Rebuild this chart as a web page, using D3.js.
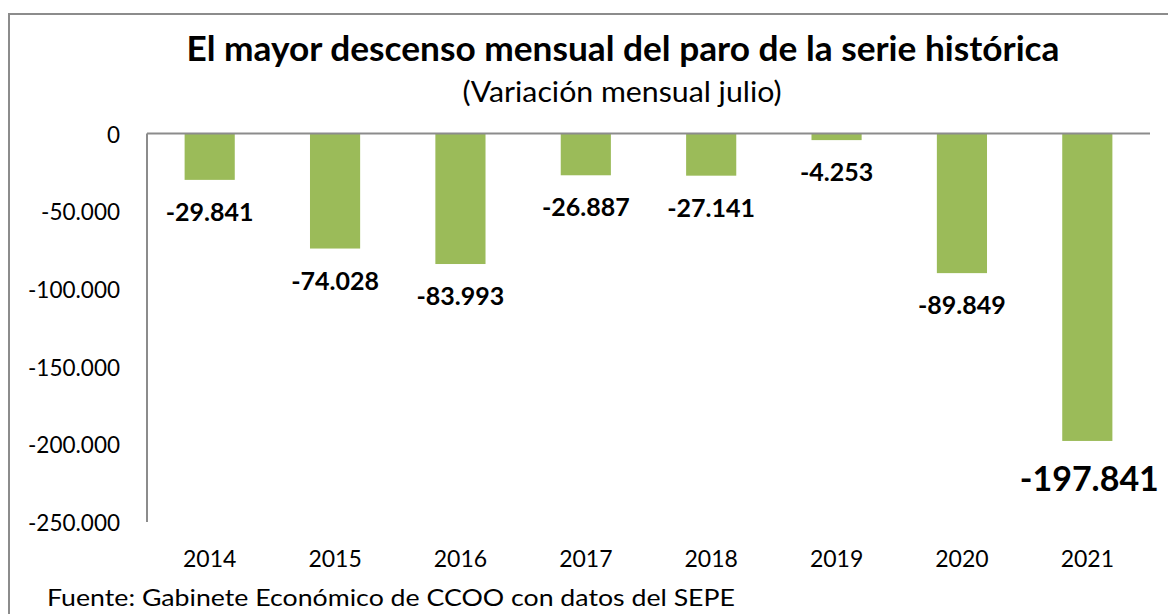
<!DOCTYPE html>
<html>
<head>
<meta charset="utf-8">
<script src="https://cdn.jsdelivr.net/npm/d3@7"></script>
<style>
  html, body { margin: 0; padding: 0; background: #fff; }
  svg { display: block; font-family: Lato, "Open Sans", sans-serif; }
</style>
</head>
<body>
<svg id="chart" width="1168" height="614"></svg>
<script>
// data
const years = ["2014", "2015", "2016", "2017", "2018", "2019", "2020", "2021"];
const values = [-29841, -74028, -83993, -26887, -27141, -4253, -89849, -197841];
const yTicks = [0, -50000, -100000, -150000, -200000, -250000];

const title = "El mayor descenso mensual del paro de la serie histórica";
const subtitle = "(Variación mensual julio)";
const source = "Fuente: Gabinete Económico de CCOO con datos del SEPE";

const svg = d3.select("#chart");

// spanish number format, plain hyphen for the minus
const es = d3.formatLocale({decimal: ",", thousands: ".", grouping: [3], currency: ["", " €"], minus: "-"});
const fmt = es.format(",");

// outer frame (right and bottom run past the window)
svg.append("rect")
  .attr("x", 9).attr("y", 14)
  .attr("width", 1200).attr("height", 700)
  .attr("fill", "none")
  .attr("stroke", "#8c8c8c")
  .attr("stroke-width", 2);

const x = d3.scaleBand().domain(years).range([147, 1150]).paddingInner(0.6).paddingOuter(0.3);
const y = d3.scaleLinear().domain([-250000, 0]).range([522, 133.5]);

// y tick labels (no tick marks in the original)
svg.append("g")
  .selectAll("text")
  .data(yTicks)
  .join("text")
    .attr("x", 120)
    .attr("y", d => y(d) + 9)
    .attr("text-anchor", "end")
    .attr("font-size", 22.5)
    .attr("fill", "#000")
    .text(d => fmt(d));

// bars
svg.append("g")
  .selectAll("rect")
  .data(values)
  .join("rect")
    .attr("x", (d, i) => x(years[i]))
    .attr("y", y(0))
    .attr("width", x.bandwidth())
    .attr("height", d => y(d) - y(0))
    .attr("fill", "#9bbb59");

// axis lines
svg.append("line")
  .attr("x1", 147).attr("x2", 147)
  .attr("y1", y(0)).attr("y2", y(-250000))
  .attr("stroke", "#8c8c8c").attr("stroke-width", 2);
svg.append("line")
  .attr("x1", 147).attr("x2", 1150)
  .attr("y1", y(0)).attr("y2", y(0))
  .attr("stroke", "#8c8c8c").attr("stroke-width", 2);

// value labels, the last one bigger
svg.append("g")
  .selectAll("text")
  .data(values)
  .join("text")
    .attr("x", (d, i) => x(years[i]) + x.bandwidth() / 2 + (i === 7 ? 2 : 0))
    .attr("y", (d, i) => y(d) + (i === 7 ? 50 : 41))
    .attr("text-anchor", "middle")
    .attr("font-weight", "bold")
    .attr("font-size", (d, i) => i === 7 ? 34 : 25)
    .attr("fill", "#000")
    .text(d => fmt(d));

// category labels
svg.append("g")
  .selectAll("text")
  .data(years)
  .join("text")
    .attr("x", d => x(d) + x.bandwidth() / 2)
    .attr("y", 567)
    .attr("text-anchor", "middle")
    .attr("font-size", 23)
    .text(d => d);

// titles
svg.append("text")
  .attr("x", 623).attr("y", 61)
  .attr("text-anchor", "middle")
  .attr("font-weight", "bold")
  .attr("font-size", 34)
  .attr("textLength", 873)
  .attr("lengthAdjust", "spacingAndGlyphs")
  .text(title);

svg.append("text")
  .attr("x", 622).attr("y", 102)
  .attr("text-anchor", "middle")
  .attr("font-size", 28)
  .attr("textLength", 319)
  .attr("lengthAdjust", "spacingAndGlyphs")
  .text(subtitle);

svg.append("text")
  .attr("x", 47).attr("y", 606)
  .attr("font-size", 24)
  .attr("textLength", 688)
  .attr("lengthAdjust", "spacingAndGlyphs")
  .text(source);
</script>
</body>
</html>
